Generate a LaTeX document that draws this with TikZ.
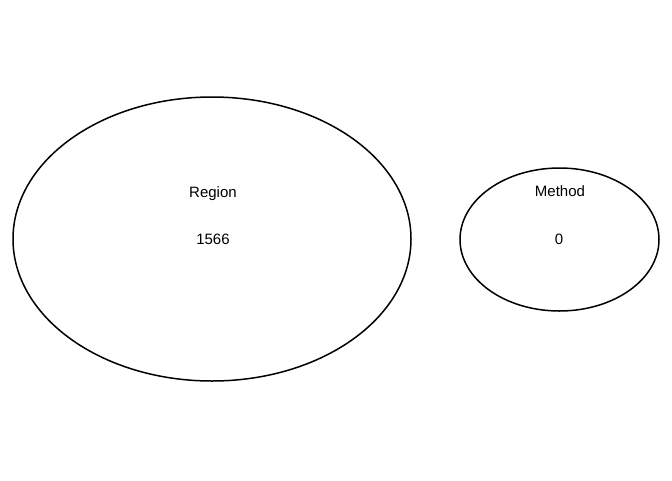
\documentclass[tikz,border=0pt]{standalone}
\usepackage{fontspec}
\setmainfont{Liberation Sans}
\usetikzlibrary{shapes.geometric}
\begin{document}
\begin{tikzpicture}[x=1pt,y=-1pt,
  setell/.style={draw=black,line width=1.5pt,ellipse,inner sep=0pt},
  lbl/.style={font=\fontsize{15}{17}\selectfont,inner sep=0pt,anchor=base}]
\useasboundingbox (0,0) rectangle (672,480);
\node[setell,minimum width=398pt,minimum height=284pt] (region) at (212,239) {};
\node[setell,minimum width=199pt,minimum height=143pt] (method) at (559.5,239.5) {};
\node[lbl] (regionname) at (213,197) {Region};
\node[lbl] (regioncount) at (213,244.5) {1566};
\node[lbl] (methodname) at (560,196.5) {Method};
\node[lbl] (methodcount) at (559,244.5) {0};
\end{tikzpicture}
\end{document}
